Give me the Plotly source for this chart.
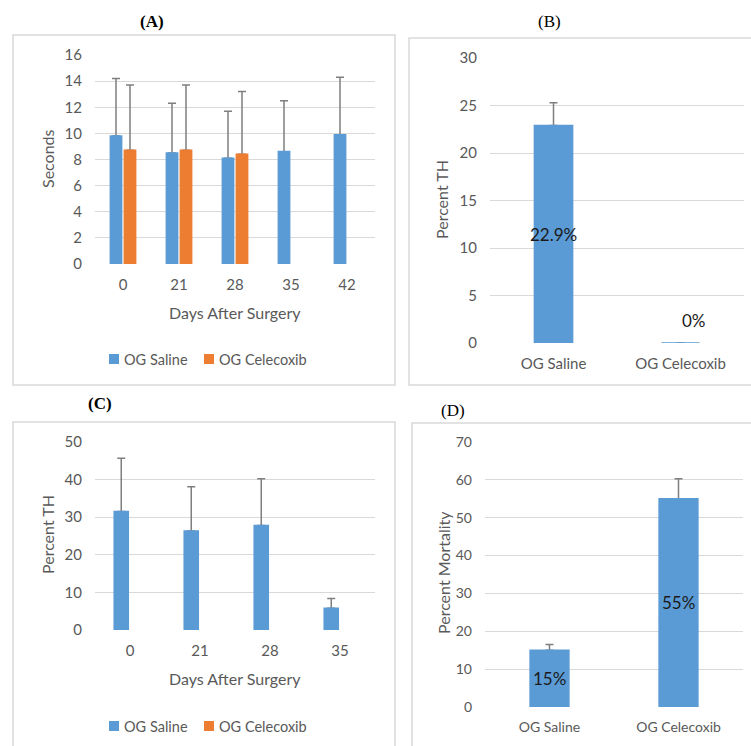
import plotly.graph_objects as go

# ---- data -------------------------------------------------------------
days_a = ["0", "21", "28", "35", "42"]
latency_saline = [9.8, 8.5, 8.1, 8.6, 9.9]
latency_saline_err = [4.4, 3.8, 3.6, 3.9, 4.4]
latency_celecoxib = [8.7, 8.7, 8.4, None, None]
latency_celecoxib_err = [5.0, 5.0, 4.8, None, None]

groups = ["OG Saline", "OG Celecoxib"]
th_pct = [22.9, 0.0]
th_pct_err = [2.4, 0.0]

days_c = ["0", "21", "28", "35"]
th_saline = [31.5, 26.3, 27.8, 5.8]
th_saline_err = [14.2, 11.8, 12.4, 2.6]
th_celecoxib = [None, None, None, None]

mortality = [15, 55]
mortality_err = [1.5, 5.3]

series_names = ["OG Saline", "OG Celecoxib"]

# ---- style ------------------------------------------------------------
W, H = 751, 746
BLUE, ORANGE = "#5b9bd5", "#ed7d31"
ERR_COLOR = "#7f7f7f"
GRID = "#d9d9d9"
TXT = "#595959"
FONT = "Lato"
SERIF = "Liberation Serif"


def px(x):
    return x / W


def py(y):
    return 1 - y / H


def clamp(v):
    return max(0.0, min(1.0, v))


def err(vals):
    return dict(type="data", array=vals, arrayminus=[0] * len(vals),
                symmetric=False, color=ERR_COLOR, thickness=1.5, width=4)


fig = go.Figure()


def add_series(x, y, e, color, xa, ya, group, width=None):
    # error bars ride on a transparent copy so the filled bar drawn
    # afterwards hides the lower cap that sits on the bar top
    if e is not None:
        fig.add_trace(go.Bar(x=x, y=y, width=width, offsetgroup=group,
                             marker=dict(color="rgba(0,0,0,0)", line=dict(width=0)),
                             error_y=err(e), showlegend=False, hoverinfo="skip",
                             xaxis=xa, yaxis=ya))
    fig.add_trace(go.Bar(x=x, y=y, width=width, offsetgroup=group,
                         marker=dict(color=color, line=dict(color=color, width=1.6)),
                         showlegend=False, xaxis=xa, yaxis=ya))


# (A) latency
add_series(days_a, latency_saline, latency_saline_err, BLUE, "x", "y", "s")
add_series(days_a, latency_celecoxib, latency_celecoxib_err, ORANGE, "x", "y", "c")
# (B) percent TH by group
add_series(groups, th_pct, th_pct_err, BLUE, "x2", "y2", "s", width=0.3)
# (C) percent TH over time
add_series(days_c, th_saline, th_saline_err, BLUE, "x3", "y3", "s")
add_series(days_c, th_celecoxib, None, ORANGE, "x3", "y3", "c")
# (D) mortality
add_series(groups, mortality, mortality_err, BLUE, "x4", "y4", "s", width=0.3)


def xaxis(x0, x1, anchor, size=15):
    return dict(domain=[clamp(px(x0)), clamp(px(x1))], anchor=anchor, type="category",
                showgrid=False, zeroline=False, showline=False, ticks="",
                ticklabelstandoff=10, fixedrange=True, automargin=False,
                tickfont=dict(family=FONT, size=size, color=TXT))


def yaxis(y_top, y_bot, anchor, rng, dtick, size=15):
    return dict(domain=[clamp(py(y_bot)), clamp(py(y_top))], anchor=anchor, range=rng,
                dtick=dtick, showgrid=True, gridcolor=GRID, gridwidth=1,
                zeroline=False, showline=False, ticks="", ticklabelstandoff=12,
                fixedrange=True, automargin=False,
                tickfont=dict(family=FONT, size=size, color=TXT))


annotations = []
shapes = []


def label(text, x, y, size=16, angle=0, color=TXT, family=FONT, bold=False,
          xanchor="center"):
    if bold:
        text = f"<b>{text}</b>"
    annotations.append(dict(text=text, x=px(x), y=py(y), xref="paper", yref="paper",
                            showarrow=False, textangle=angle, xanchor=xanchor,
                            yanchor="middle",
                            font=dict(family=family, size=size, color=color)))


# panel letters
label("(A)", 152, 21, 17, color="#000", family=SERIF, bold=True)
label("(B)", 549, 21, 17, color="#000", family=SERIF)
label("(C)", 100, 403, 17, color="#000", family=SERIF, bold=True)
label("(D)", 453, 410, 17, color="#000", family=SERIF)

# axis titles
label("Seconds", 47, 159, angle=-90)
label("Days After Surgery", 235, 312)
label("Percent TH", 442, 200, angle=-90)
label("Percent TH", 47, 535, angle=-90)
label("Days After Surgery", 235, 678)
label("Percent Mortality", 443, 573, angle=-90)

# value labels on the single-series bars
for xa, ya, cats, vals in (("x2", "y2", groups, th_pct), ("x4", "y4", groups, mortality)):
    for c, v in zip(cats, vals):
        txt = f"{v:g}%"
        lab = dict(text=txt, x=c, xref=xa, yref=ya, showarrow=False,
                   font=dict(family=FONT, size=17, color="#1a1a1a"))
        if v > 0:
            lab.update(y=v / 2, yanchor="middle")
        else:
            lab.update(y=0, yanchor="bottom", yshift=10, xshift=13)
        annotations.append(lab)

# series keys under panels A and C
for y_key in (359, 726):
    for name, color, sq_x, txt_x in zip(series_names, (BLUE, ORANGE), (109, 204), (122, 217)):
        shapes.append(dict(type="rect", xref="paper", yref="paper",
                           x0=px(sq_x), x1=px(sq_x + 10),
                           y0=py(y_key + 5), y1=py(y_key - 5),
                           line=dict(width=0), fillcolor=color))
        label(name, txt_x, y_key, 14.5, xanchor="left")

# panel frames
for x0, y0, x1, y1 in ((13, 35, 395, 385), (409, 38, 760, 385),
                       (13, 422, 395, 760), (412, 423, 760, 760)):
    shapes.append(dict(type="rect", xref="paper", yref="paper",
                       x0=px(x0), x1=px(x1), y0=py(y1), y1=py(y0),
                       line=dict(color=GRID, width=1.5), fillcolor="rgba(0,0,0,0)",
                       layer="below"))

fig.update_layout(
    width=W, height=H,
    margin=dict(l=0, r=0, t=0, b=0, pad=0, autoexpand=False),
    paper_bgcolor="white", plot_bgcolor="white",
    barmode="group", bargap=0.5, bargroupgap=0.2,
    showlegend=False,
    xaxis=xaxis(95, 375, "y"),
    yaxis=yaxis(55, 264, "x", [0, 16], 2),
    xaxis2=xaxis(490, 744, "y2"),
    yaxis2=yaxis(58, 343, "x2", [0, 30], 5),
    xaxis3=xaxis(95, 375, "y3"),
    yaxis3=yaxis(442, 630, "x3", [0, 50], 10),
    xaxis4=xaxis(485, 743, "y4", size=14),
    yaxis4=yaxis(442, 707, "x4", [0, 70], 10, size=14),
    annotations=annotations,
    shapes=shapes,
)

fig.write_html("out.html")
